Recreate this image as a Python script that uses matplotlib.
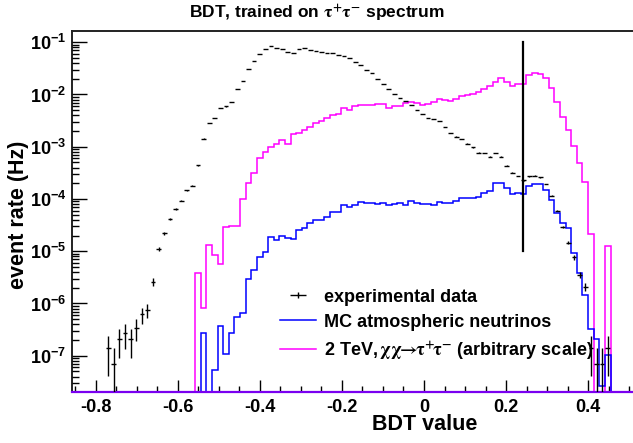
import numpy as np
import matplotlib
matplotlib.use("Agg")
import matplotlib.pyplot as plt
from matplotlib.lines import Line2D
from matplotlib.path import Path
from matplotlib.ticker import FixedLocator, FixedFormatter, NullFormatter

# ---------------- data ----------------
hist_range = (-0.858, 0.509)
n_bins = 100

# experimental data (event rate, Hz) per bin, 0 = empty
data_rate = [
    0, 0, 0, 0, 0, 0, 1.38e-7, 6.9e-8, 2.1e-7, 2.75e-7,
    2.1e-7, 3.45e-7, 6.2e-7, 7.6e-7, 2.6e-6, 1.1e-5, 2.2e-5, 4.2e-5, 6.5e-5, 9.3e-5,
    1.48e-4, 1.78e-4, 4.4e-4, 1.43e-3, 2.8e-3, 3.6e-3, 5.6e-3, 5.9e-3, 7.1e-3, 1.28e-2,
    1.84e-2, 3.1e-2, 4.3e-2, 6.0e-2, 7.3e-2, 8.5e-2, 7.8e-2, 7.4e-2, 6.5e-2, 6.3e-2,
    7.5e-2, 7.6e-2, 7.1e-2, 6.8e-2, 6.5e-2, 6.3e-2, 6.2e-2, 5.8e-2, 5.5e-2, 4.9e-2,
    4.1e-2, 3.7e-2, 2.95e-2, 2.55e-2, 1.95e-2, 1.59e-2, 1.28e-2, 1.01e-2, 8.5e-3, 7.4e-3,
    6.2e-3, 5.0e-3, 4.3e-3, 3.5e-3, 3.35e-3, 3.1e-3, 2.35e-3, 1.83e-3, 1.56e-3, 1.39e-3,
    1.15e-3, 9.7e-4, 7.7e-4, 7.5e-4, 6.5e-4, 7.5e-4, 6.5e-4, 4.35e-4, 3.2e-4, 2.75e-4,
    2.26e-4, 2.7e-4, 2.8e-4, 2.6e-4, 1.94e-4, 1.16e-4, 6.0e-5, 2.95e-5, 1.45e-5, 7.6e-6,
    3.5e-6, 2.1e-6, 1.38e-7, 6.9e-8, 6.9e-8, 1.38e-7, 0, 0, 0, 0,
]
data_unit = 6.9e-8  # rate of a single event (Hz)

# MC atmospheric neutrinos
mc_rate = [
    0, 0, 0, 0, 0, 0, 0, 0, 0, 0,
    0, 0, 0, 0, 0, 0, 0, 0, 0, 0,
    0, 0, 0, 2.75e-7, 0, 5.4e-8, 3.7e-7, 1.07e-7, 2.7e-7, 5.4e-7,
    6.5e-7, 3.0e-6, 4.3e-6, 7.6e-6, 9.8e-6, 1.86e-5, 1.64e-5, 1.95e-5, 1.78e-5, 1.74e-5,
    2.57e-5, 2.8e-5, 3.4e-5, 4.0e-5, 4.0e-5, 4.6e-5, 5.7e-5, 5.7e-5, 7.7e-5, 7.1e-5,
    7.7e-5, 8.6e-5, 8.3e-5, 8.3e-5, 8.0e-5, 8.3e-5, 7.7e-5, 8.0e-5, 8.3e-5, 7.7e-5,
    9.1e-5, 8.5e-5, 8.0e-5, 8.0e-5, 7.7e-5, 8.9e-5, 8.5e-5, 8.5e-5, 9.3e-5, 1.03e-4,
    1.03e-4, 1.06e-4, 1.11e-4, 1.32e-4, 1.44e-4, 2.0e-4, 2.05e-4, 1.6e-4, 1.24e-4, 1.28e-4,
    1.23e-4, 1.8e-4, 1.91e-4, 1.91e-4, 1.49e-4, 9.5e-5, 5.5e-5, 3.5e-5, 2.8e-5, 9.1e-6,
    3.8e-6, 1.45e-6, 3.3e-7, 2.1e-7, 2.6e-8, 1.02e-7, 0, 0, 0, 0,
]

# 2 TeV chi chi -> tau+ tau- signal (arbitrary scale)
sig_rate = [
    0, 0, 0, 0, 0, 0, 0, 0, 0, 0,
    0, 0, 0, 0, 0, 0, 0, 0, 0, 0,
    0, 0, 3.8e-6, 8.3e-7, 1.32e-5, 8.5e-6, 5.6e-6, 2.86e-5, 3.1e-5, 3.1e-5,
    1.0e-4, 2.0e-4, 3.1e-4, 6.0e-4, 8.0e-4, 1.0e-3, 1.13e-3, 1.34e-3, 1.13e-3, 1.74e-3,
    1.86e-3, 2.1e-3, 2.43e-3, 2.8e-3, 3.15e-3, 3.5e-3, 4.05e-3, 4.2e-3, 5.4e-3, 5.1e-3,
    5.9e-3, 6.3e-3, 6.3e-3, 6.3e-3, 6.5e-3, 6.5e-3, 5.6e-3, 5.9e-3, 5.9e-3, 6.8e-3,
    7.1e-3, 7.0e-3, 6.3e-3, 6.6e-3, 7.3e-3, 8.2e-3, 7.7e-3, 7.5e-3, 8.2e-3, 9.5e-3,
    9.8e-3, 1.01e-2, 1.13e-2, 1.29e-2, 1.46e-2, 1.76e-2, 2.1e-2, 1.71e-2, 1.46e-2, 1.57e-2,
    1.57e-2, 2.37e-2, 2.62e-2, 2.47e-2, 2.1e-2, 1.31e-2, 7.3e-3, 3.77e-3, 2.1e-3, 1.05e-3,
    4.8e-4, 2.15e-4, 2.1e-5, 0, 0, 1.26e-5, 0, 0, 0, 0,
]

cut_value = 0.24
cut_span = (1e-5, 0.1)

x_ticks = [-0.8, -0.6, -0.4, -0.2, 0.0, 0.2, 0.4]
x_tick_labels = ["-0.8", "-0.6", "-0.4", "-0.2", "0", "0.2", "0.4"]
y_exponents = [-7, -6, -5, -4, -3, -2, -1]

title_text = r"BDT, trained on $\mathrm{τ^{+}τ^{-}}$ spectrum"
xlabel_text = "BDT value"
ylabel_text = "event rate (Hz)"
legend_labels = ["experimental data", "MC atmospheric neutrinos",
                 r"2 TeV,$\mathrm{\,χχ\!\!\rightarrow\!\!τ^{+}\!τ^{-}}$ (arbitrary scale)"]

# ---------------- style ----------------
plt.rcParams["font.family"] = ["Liberation Sans", "DejaVu Sans"]
plt.rcParams["font.weight"] = "bold"
plt.rcParams["axes.unicode_minus"] = False
plt.rcParams["mathtext.fontset"] = "custom"
plt.rcParams["mathtext.rm"] = "Liberation Sans:bold"
plt.rcParams["mathtext.bf"] = "Liberation Sans:bold"
plt.rcParams["mathtext.it"] = "Liberation Sans:bold:italic"
plt.rcParams["mathtext.sf"] = "Liberation Sans:bold"

W, H = 633, 443
fig = plt.figure(figsize=(W / 100, H / 100), dpi=100)
ax_l, ax_r, ax_t, ax_b = 71.7, 633.0, 31.0, 391.7
ax = fig.add_axes([ax_l / W, (H - ax_b) / H, (ax_r - ax_l) / W, (ax_b - ax_t) / H])

ymin, ymax = 2.05e-8, 0.164
ax.set_yscale("log")
ax.set_xlim(*hist_range)
ax.set_ylim(ymin, ymax)

edges = np.linspace(hist_range[0], hist_range[1], n_bins + 1)
centers = 0.5 * (edges[:-1] + edges[1:])
bw = edges[1] - edges[0]

sig = np.array(sig_rate, dtype=float)
mc = np.array(mc_rate, dtype=float)
dat = np.array(data_rate, dtype=float)

ax.stairs(np.where(sig > 0, sig, ymin), edges, baseline=None,
          color="#ff00ff", lw=1.1, zorder=3, clip_on=False)
ax.stairs(np.where(mc > 0, mc, ymin), edges, baseline=None,
          color="#0000ff", lw=1.1, zorder=3, clip_on=False)

m = dat > 0
err = np.sqrt(dat[m] * data_unit)
lo = np.minimum(err, dat[m] * 0.9999)
ax.errorbar(centers[m], dat[m], xerr=bw * 0.42, yerr=[lo, err], fmt="none",
            ecolor="black", elinewidth=1.0, capsize=0, zorder=4)

ax.plot([cut_value, cut_value], cut_span, color="black", lw=1.6, zorder=5)

# axes styling
ax.spines["right"].set_visible(False)
for s in ["left", "top"]:
    ax.spines[s].set_linewidth(1.4)
    ax.spines[s].set_color("#222222")
    ax.spines[s].set_zorder(1)
# overlapping empty blue and magenta bins along the bottom look purple
ax.spines["bottom"].set_linewidth(1.6)
ax.spines["bottom"].set_color("#7a00f0")
ax.spines["bottom"].set_zorder(3.5)

ax.xaxis.set_major_locator(FixedLocator(x_ticks))
ax.xaxis.set_major_formatter(FixedFormatter(x_tick_labels))
ax.xaxis.set_minor_locator(FixedLocator(np.arange(-0.85, 0.51, 0.05)))
ax.yaxis.set_major_locator(FixedLocator([10.0 ** e for e in y_exponents]))
ax.yaxis.set_major_formatter(FixedFormatter([r"$10^{%d}$" % e for e in y_exponents]))
minor_y = [k * 10.0 ** e for e in range(-8, 0) for k in range(2, 10)]
ax.yaxis.set_minor_locator(FixedLocator([v for v in minor_y if ymin < v < ymax]))
ax.yaxis.set_minor_formatter(NullFormatter())

ax.tick_params(axis="x", which="major", direction="in", length=8.5, width=1.0, pad=5,
               labelsize=13, top=False, color="black")
ax.tick_params(axis="x", which="minor", direction="in", length=4.3, width=1.0, top=False, color="black")
ax.tick_params(axis="y", which="major", direction="in", length=10.5, width=1.0, pad=4, labelsize=13, right=False)
ax.tick_params(axis="y", which="minor", direction="in", length=5.2, width=1.0, right=False)
for lab in ax.get_xticklabels() + ax.get_yticklabels():
    lab.set_fontweight("bold")

ax.set_xlabel(xlabel_text, fontsize=15.5, fontweight="bold")
ax.xaxis.set_label_coords((425 - ax_l) / (ax_r - ax_l), -(425 - ax_b) / (ax_b - ax_t))
ax.xaxis.label.set_va("center")
ax.set_ylabel(ylabel_text, fontsize=15.5, fontweight="bold")
ax.yaxis.set_label_coords(-(ax_l - 18) / (ax_r - ax_l), 0.49)
ax.yaxis.label.set_va("center")

t = fig.text(316.5 / W, 1 - 13 / H, title_text, ha="center", va="center", fontsize=12.5, fontweight="bold")
t.set_math_fontfamily("stix")

# legend
cross = Path([(-1, 0), (1, 0), (0, -0.45), (0, 0.45)],
             [Path.MOVETO, Path.LINETO, Path.MOVETO, Path.LINETO])
handles = [
    Line2D([], [], ls="none", marker=cross, markersize=11, markeredgewidth=1.0, color="black"),
    Line2D([], [], color="#0000ff", lw=1.1),
    Line2D([], [], color="#ff00ff", lw=1.1),
]
leg = ax.legend(handles, legend_labels, loc="upper left",
                bbox_to_anchor=(280 / W, 1 - 288.5 / H), bbox_transform=fig.transFigure,
                frameon=False, fontsize=13.0, handlelength=2.0, handletextpad=0.45,
                labelspacing=0.45, borderpad=0, borderaxespad=0)
for txt in leg.get_texts():
    txt.set_fontweight("bold")
    txt.set_math_fontfamily("stix")

fig.savefig("out.png", dpi=100)
